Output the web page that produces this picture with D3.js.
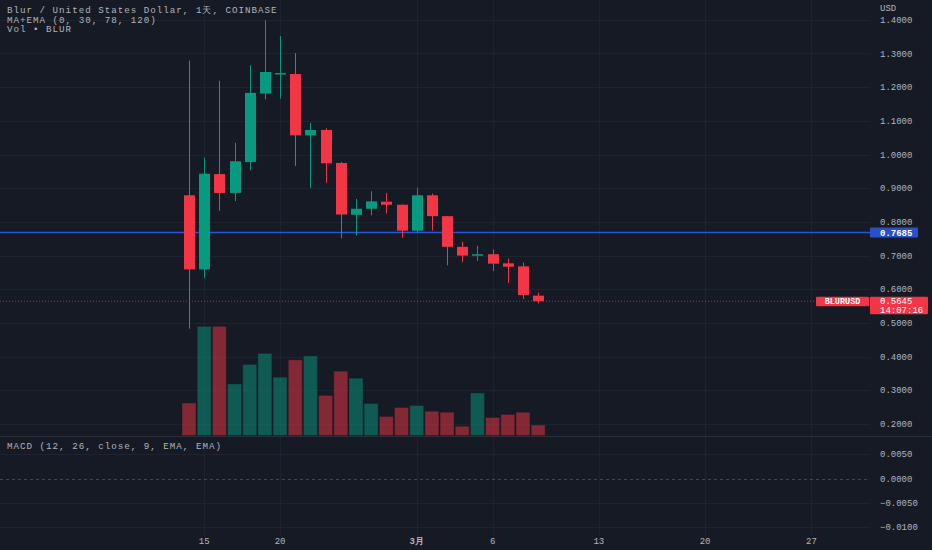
<!DOCTYPE html>
<html>
<head>
<meta charset="utf-8">
<script src="https://cdn.jsdelivr.net/npm/d3@7"></script>
<style>
  body { margin: 0; background: #161a25; }
  svg { display: block; }
  text { font-family: 'Liberation Mono', monospace; }
</style>
</head>
<body>
<div class="chart"></div>
<script>
const width = 932;
const height = 550;

// daily candles, BLUR/USD
const dates = [
  '2023-02-14', '2023-02-15', '2023-02-16', '2023-02-17', '2023-02-18', '2023-02-19',
  '2023-02-20', '2023-02-21', '2023-02-22', '2023-02-23', '2023-02-24', '2023-02-25',
  '2023-02-26', '2023-02-27', '2023-02-28', '2023-03-01', '2023-03-02', '2023-03-03',
  '2023-03-04', '2023-03-05', '2023-03-06', '2023-03-07', '2023-03-08', '2023-03-09',
];
const open = [0.879, 0.659, 0.942, 0.886, 0.978, 1.181, 1.238, 1.239, 1.057, 1.073, 0.975, 0.821,
  0.839, 0.860, 0.851, 0.774, 0.879, 0.817, 0.726, 0.700, 0.704, 0.677, 0.668, 0.581];
const high = [1.279, 0.991, 1.219, 1.035, 1.265, 1.399, 1.352, 1.301, 1.094, 1.078, 0.978, 0.868,
  0.891, 0.886, 0.852, 0.902, 0.884, 0.818, 0.741, 0.729, 0.718, 0.691, 0.679, 0.590];
const low = [0.483, 0.633, 0.833, 0.862, 0.953, 1.164, 1.166, 0.966, 0.900, 0.916, 0.751, 0.759,
  0.819, 0.825, 0.753, 0.767, 0.774, 0.671, 0.680, 0.684, 0.654, 0.619, 0.571, 0.558];
const close = [0.659, 0.943, 0.886, 0.980, 1.183, 1.245, 1.242, 1.057, 1.073, 0.974, 0.822, 0.839,
  0.861, 0.851, 0.774, 0.879, 0.817, 0.726, 0.700, 0.704, 0.676, 0.667, 0.583, 0.5645];
// volume in millions of BLUR
const volume = [13.0, 43.6, 43.6, 20.6, 28.4, 32.8, 23.3, 30.2, 31.8, 16.0, 25.7, 22.9,
  12.8, 7.6, 11.2, 12.0, 9.7, 9.3, 3.7, 17.0, 7.2, 8.4, 9.3, 4.2];

const priceTicks = [1.4, 1.3, 1.2, 1.1, 1.0, 0.9, 0.8, 0.7, 0.6, 0.5, 0.4, 0.3, 0.2];
const macdTicks = [0.005, 0, -0.005, -0.01];
const dateTicks = ['2023-02-15', '2023-02-20', '2023-03-01', '2023-03-06', '2023-03-13', '2023-03-20', '2023-03-27'];
const alertLevel = 0.7685;
const lastPrice = 0.5645;

const parse = d3.timeParse('%Y-%m-%d');
const candles = dates.map((d, i) => ({
  date: parse(d), open: open[i], high: high[i], low: low[i], close: close[i], volume: volume[i],
}));

const up = '#089981';
const down = '#f23645';
const gridColor = '#1f2330';
const textColor = '#b2b5be';
const plotRight = 870;

const svg = d3
  .select('.chart')
  .append('svg')
  .attr('width', width)
  .attr('height', height)
  .attr('viewBox', [0, 0, width, height]);

svg.append('rect').attr('width', width).attr('height', height).attr('fill', '#161a25');

// scales
const x = d3
  .scaleTime()
  .domain([parse('2023-02-14'), parse('2023-03-27')])
  .range([189, 811.4]);
const y = d3.scaleLinear().domain([0.2, 1.4]).range([424, 19.8]);
const yVol = d3.scaleLinear().domain([0, d3.max(volume)]).range([435.5, 326.3]);
const yMacd = d3.scaleLinear().domain([-0.01, 0.005]).range([527.3, 454.3]);
const barW = 11;
const volW = 14;

///// GRID
const grid = svg.append('g').attr('stroke', gridColor).attr('stroke-width', 1);
grid
  .selectAll('.vgrid')
  .data(dateTicks.map(parse))
  .join('line')
  .attr('x1', (d) => Math.round(x(d)) + 0.5)
  .attr('x2', (d) => Math.round(x(d)) + 0.5)
  .attr('y1', 0)
  .attr('y2', 535);
grid
  .selectAll('.pgrid')
  .data(priceTicks)
  .join('line')
  .attr('class', 'pgrid')
  .attr('x1', 0)
  .attr('x2', plotRight)
  .attr('y1', (d) => Math.round(y(d)) + 0.5)
  .attr('y2', (d) => Math.round(y(d)) + 0.5);
grid
  .selectAll('.mgrid')
  .data(macdTicks.filter((d) => d !== 0))
  .join('line')
  .attr('class', 'mgrid')
  .attr('x1', 0)
  .attr('x2', plotRight)
  .attr('y1', (d) => Math.round(yMacd(d)) + 0.5)
  .attr('y2', (d) => Math.round(yMacd(d)) + 0.5);

// pane separator
svg.append('line')
  .attr('x1', 0).attr('x2', width)
  .attr('y1', 436.5).attr('y2', 436.5)
  .attr('stroke', '#2a2e39');

// MACD zero line
svg.append('line')
  .attr('x1', 0).attr('x2', plotRight)
  .attr('y1', Math.round(yMacd(0)) + 0.5).attr('y2', Math.round(yMacd(0)) + 0.5)
  .attr('stroke', '#434651')
  .attr('stroke-dasharray', '3,3');

///// VOLUME
svg
  .append('g')
  .selectAll('rect')
  .data(candles)
  .join('rect')
  .attr('x', (d) => x(d.date) - volW / 2)
  .attr('y', (d) => yVol(d.volume))
  .attr('width', volW)
  .attr('height', (d) => yVol(0) - yVol(d.volume))
  .attr('fill', (d) => (d.close >= d.open ? up : down))
  .attr('fill-opacity', 0.5)
  .attr('stroke', '#161a25')
  .attr('stroke-opacity', 0.4);

///// LEVEL LINES
svg.append('line')
  .attr('x1', 0).attr('x2', plotRight)
  .attr('y1', y(alertLevel)).attr('y2', y(alertLevel))
  .attr('stroke', '#2e55d0')
  .attr('stroke-width', 1.5);

svg.append('line')
  .attr('x1', 0).attr('x2', plotRight)
  .attr('y1', y(lastPrice)).attr('y2', y(lastPrice))
  .attr('stroke', down)
  .attr('stroke-opacity', 0.7)
  .attr('stroke-dasharray', '1,2');

///// CANDLES
const candle = svg
  .append('g')
  .selectAll('g')
  .data(candles)
  .join('g')
  .attr('fill', (d) => (d.close >= d.open ? up : down))
  .attr('stroke', (d) => (d.close >= d.open ? up : down));

candle
  .append('line')
  .attr('x1', (d) => Math.round(x(d.date)) + 0.5)
  .attr('x2', (d) => Math.round(x(d.date)) + 0.5)
  .attr('y1', (d) => y(d.high))
  .attr('y2', (d) => y(d.low))
  .attr('stroke-width', 1);

candle
  .append('rect')
  .attr('stroke', 'none')
  .attr('x', (d) => Math.round(x(d.date)) + 0.5 - barW / 2)
  .attr('y', (d) => y(Math.max(d.open, d.close)))
  .attr('width', barW)
  .attr('height', (d) => Math.max(1.5, Math.abs(y(d.open) - y(d.close))));

///// PRICE AXIS
const axisText = svg.append('g').attr('fill', textColor).attr('font-size', 9);
axisText
  .selectAll('.ptick')
  .data(priceTicks)
  .join('text')
  .attr('x', 880)
  .attr('y', (d) => y(d))
  .attr('dy', '0.35em')
  .text((d) => d.toFixed(4));
axisText
  .selectAll('.mtick')
  .data(macdTicks)
  .join('text')
  .attr('class', 'mtick')
  .attr('x', 880)
  .attr('y', (d) => yMacd(d))
  .attr('dy', '0.35em')
  .text((d) => (d < 0 ? '\u2212' + Math.abs(d).toFixed(4) : d.toFixed(4)));
axisText.append('text').attr('x', 880).attr('y', 8).attr('dy', '0.35em').text('USD');

// time axis
svg
  .append('g')
  .attr('fill', textColor)
  .attr('font-size', 9)
  .selectAll('text')
  .data(dateTicks.map(parse))
  .join('text')
  .attr('x', (d) => x(d))
  .attr('y', 541)
  .attr('dy', '0.35em')
  .attr('text-anchor', 'middle')
  .attr('font-weight', (d) => (d.getDate() === 1 ? 'bold' : 'normal'))
  .text((d) => (d.getDate() === 1 ? d.getMonth() + 1 + '月' : d.getDate()));

///// LABELS ON THE SCALE
const alertY = y(alertLevel);
svg.append('rect')
  .attr('x', 870).attr('y', alertY - 5).attr('width', 48).attr('height', 10)
  .attr('rx', 1)
  .attr('fill', '#2a4fc8');
svg.append('text')
  .attr('x', 880).attr('y', alertY).attr('dy', '0.35em')
  .attr('font-size', 9).attr('font-weight', 'bold').attr('fill', '#fff')
  .text(alertLevel.toFixed(4));

const lastY = y(lastPrice);
svg.append('rect')
  .attr('x', 816).attr('y', lastY - 4.5).attr('width', 53).attr('height', 9.5)
  .attr('rx', 1)
  .attr('fill', down);
svg.append('text')
  .attr('x', 842.5).attr('y', lastY).attr('dy', '0.35em')
  .attr('text-anchor', 'middle')
  .attr('font-size', 8.5).attr('font-weight', 'bold').attr('fill', '#fff')
  .text('BLURUSD');
svg.append('rect')
  .attr('x', 870).attr('y', lastY - 4.5).attr('width', 58).attr('height', 17.5)
  .attr('rx', 1)
  .attr('fill', down);
svg.append('text')
  .attr('x', 880).attr('y', lastY).attr('dy', '0.35em')
  .attr('font-size', 9).attr('fill', '#fff')
  .text(lastPrice.toFixed(4));
svg.append('text')
  .attr('x', 880).attr('y', lastY + 9).attr('dy', '0.35em')
  .attr('font-size', 9).attr('fill', '#fff')
  .text('14:07:16');

///// LEGENDS
const legend = svg
  .append('g')
  .attr('fill', textColor)
  .attr('font-size', 9.2)
  .attr('letter-spacing', 1.0);
legend.append('text').attr('x', 7).attr('y', 10).attr('dy', '0.35em').text('Blur / United States Dollar, 1天, COINBASE');
legend.append('text').attr('x', 7).attr('y', 19.5).attr('dy', '0.35em').text('MA+EMA (0, 30, 78, 120)');
legend.append('text').attr('x', 7).attr('y', 29).attr('dy', '0.35em').text('Vol \u2022 BLUR');
legend.append('text').attr('x', 7).attr('y', 446).attr('dy', '0.35em').text('MACD (12, 26, close, 9, EMA, EMA)');
</script>
</body>
</html>
